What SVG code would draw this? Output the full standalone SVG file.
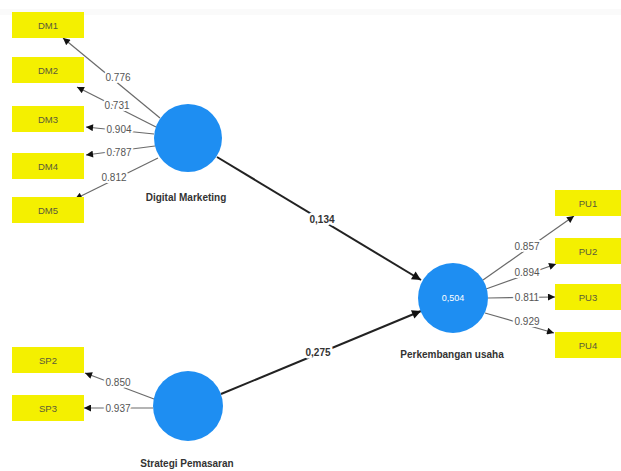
<svg xmlns="http://www.w3.org/2000/svg" width="621" height="471" viewBox="0 0 621 471">
  <style>
    .ind rect { fill: #f4f000; }
    .ind text { font-family: "Liberation Sans", Arial, sans-serif; font-size: 9.5px; fill: #5a5a3a; text-anchor: middle; }
    .lv circle { fill: #1e8ef2; }
    .lv text.name { font-family: "Liberation Sans", Arial, sans-serif; font-size: 10px; font-weight: bold; fill: #333; text-anchor: middle; }
    .lv text.r2 { font-family: "Liberation Sans", Arial, sans-serif; font-size: 9px; fill: #ffffff; text-anchor: middle; }
    .load line { stroke: #6a6a6a; stroke-width: 1.2; marker-end: url(#tipS); }
    .path line { stroke: #222; stroke-width: 2; marker-end: url(#tipL); }
    .lbl { font-family: "Liberation Sans", Arial, sans-serif; font-size: 10px; fill: #555; text-anchor: middle;
           stroke: #ffffff; stroke-width: 4; paint-order: stroke; stroke-linejoin: round; }
    .plbl { font-family: "Liberation Sans", Arial, sans-serif; font-size: 10px; font-weight: bold; fill: #333; text-anchor: middle;
            stroke: #ffffff; stroke-width: 5; paint-order: stroke; stroke-linejoin: round; }
  </style>
  <defs>
    <marker id="tipS" viewBox="0 0 10 10" refX="10" refY="5" markerWidth="9" markerHeight="7" markerUnits="userSpaceOnUse" orient="auto">
      <path d="M0,0 L10,5 L0,10 Z" fill="#111"/>
    </marker>
    <marker id="tipL" viewBox="0 0 10 10" refX="10" refY="5" markerWidth="12" markerHeight="9" markerUnits="userSpaceOnUse" orient="auto">
      <path d="M0,0 L10,5 L0,10 Z" fill="#111"/>
    </marker>
  </defs>

  <rect x="0" y="0" width="621" height="471" fill="#ffffff"/>
  <!-- faint toolbar edge along the top -->
  <rect x="0" y="9" width="621" height="6" fill="#f3f3f3" opacity="0.45"/>

  <!-- connectors -->
  <g id="connectors">
    <g class="load">
      <line x1="160" y1="118" x2="63" y2="38"/>
      <line x1="156" y1="127" x2="77" y2="87"/>
      <line x1="154" y1="134" x2="86" y2="127"/>
      <line x1="155" y1="146" x2="86" y2="155"/>
      <line x1="158" y1="158" x2="75" y2="199"/>
      <line x1="483" y1="280" x2="574" y2="216"/>
      <line x1="486" y1="289" x2="556" y2="264"/>
      <line x1="488" y1="298" x2="555" y2="297"/>
      <line x1="485" y1="313" x2="554" y2="333"/>
      <line x1="154" y1="399" x2="85" y2="373"/>
      <line x1="153" y1="408" x2="84" y2="408"/>
    </g>
    <g class="path">
      <line x1="217" y1="157" x2="421" y2="280"/>
      <line x1="221" y1="394" x2="421" y2="311"/>
    </g>
    <text class="lbl" x="118" y="81">0.776</text>
    <text class="lbl" x="117" y="109">0.731</text>
    <text class="lbl" x="119" y="133">0.904</text>
    <text class="lbl" x="119" y="156">0.787</text>
    <text class="lbl" x="114" y="181">0.812</text>
    <text class="lbl" x="527" y="250">0.857</text>
    <text class="lbl" x="527" y="276">0.894</text>
    <text class="lbl" x="527" y="301">0.811</text>
    <text class="lbl" x="527" y="325">0.929</text>
    <text class="lbl" x="118" y="386">0.850</text>
    <text class="lbl" x="118" y="412">0.937</text>
    <text class="plbl" x="322" y="223">0,134</text>
    <text class="plbl" x="318" y="356">0,275</text>
  </g>

  <!-- indicators -->
  <g id="DM1" class="ind"><rect x="12" y="12" width="72" height="26"/><text x="48" y="29">DM1</text></g>
  <g id="DM2" class="ind"><rect x="12" y="57" width="72" height="26"/><text x="48" y="74">DM2</text></g>
  <g id="DM3" class="ind"><rect x="12" y="106" width="72" height="26"/><text x="48" y="123">DM3</text></g>
  <g id="DM4" class="ind"><rect x="12" y="153" width="72" height="26"/><text x="48" y="170">DM4</text></g>
  <g id="DM5" class="ind"><rect x="12" y="197" width="72" height="26"/><text x="48" y="214">DM5</text></g>
  <g id="PU1" class="ind"><rect x="555" y="190" width="66" height="26"/><text x="588" y="207">PU1</text></g>
  <g id="PU2" class="ind"><rect x="555" y="238" width="66" height="26"/><text x="588" y="255">PU2</text></g>
  <g id="PU3" class="ind"><rect x="555" y="284" width="66" height="26"/><text x="588" y="301">PU3</text></g>
  <g id="PU4" class="ind"><rect x="555" y="332" width="66" height="26"/><text x="588" y="349">PU4</text></g>
  <g id="SP2" class="ind"><rect x="12" y="347" width="72" height="26"/><text x="48" y="364">SP2</text></g>
  <g id="SP3" class="ind"><rect x="12" y="395" width="72" height="26"/><text x="48" y="412">SP3</text></g>

  <!-- latent variables -->
  <g id="DigitalMarketing" class="lv">
    <circle cx="188" cy="138" r="34"/>
    <text class="name" x="186" y="201">Digital Marketing</text>
  </g>
  <g id="PerkembanganUsaha" class="lv">
    <circle cx="453" cy="298" r="35"/>
    <text class="r2" x="453" y="301">0,504</text>
    <text class="name" x="452" y="358">Perkembangan usaha</text>
  </g>
  <g id="StrategiPemasaran" class="lv">
    <circle cx="188" cy="406" r="35"/>
    <text class="name" x="187" y="467">Strategi Pemasaran</text>
  </g>
</svg>
